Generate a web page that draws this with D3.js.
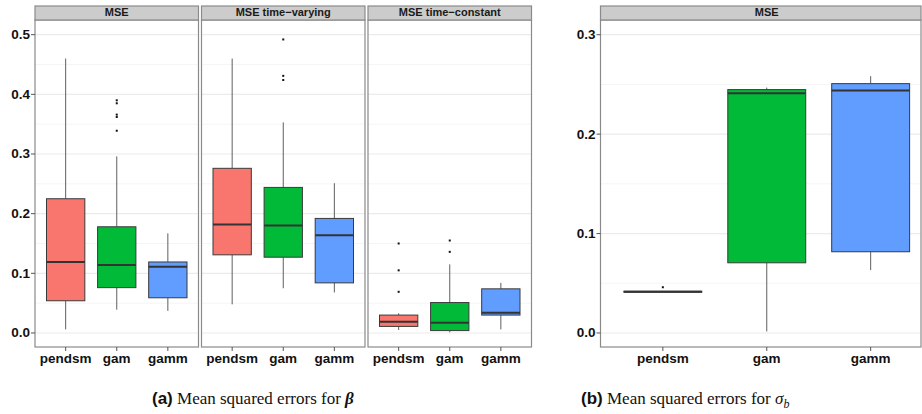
<!DOCTYPE html>
<html>
<head>
<meta charset="utf-8">
<script src="https://cdn.jsdelivr.net/npm/d3@7"></script>
<style>
  html, body { margin: 0; padding: 0; background: #fff; }
  svg { display: block; }
</style>
</head>
<body>
<svg id="chart" width="922" height="414"></svg>
<script>
// Estimators compared in each panel
const methods = ["pendsm", "gam", "gamm"];
const methodColors = ["#F8766D", "#00BA38", "#619CFF"];

// Five-number summaries per method: [lower whisker, Q1, median, Q3, upper whisker]
const betaTitles = ["MSE", "MSE time\u2212varying", "MSE time\u2212constant"];
const betaMse = [
  [0.006, 0.054, 0.119, 0.225, 0.460],
  [0.039, 0.076, 0.114, 0.178, 0.296],
  [0.037, 0.059, 0.111, 0.119, 0.167]
];
const betaMseVarying = [
  [0.048, 0.131, 0.182, 0.276, 0.460],
  [0.075, 0.127, 0.180, 0.244, 0.353],
  [0.068, 0.084, 0.164, 0.192, 0.251]
];
const betaMseConstant = [
  [0.005, 0.011, 0.019, 0.030, 0.033],
  [0.001, 0.004, 0.017, 0.051, 0.115],
  [0.006, 0.030, 0.034, 0.074, 0.084]
];
// Outlying values per method
const betaMseOutliers = [[], [0.390, 0.385, 0.366, 0.362, 0.339], []];
const betaMseVaryingOutliers = [[], [0.492, 0.431, 0.424], []];
const betaMseConstantOutliers = [[0.150, 0.105, 0.069], [0.155, 0.136], []];

const sigmaTitle = "MSE";
const sigmaMse = [
  [0.0410, 0.0410, 0.0415, 0.0420, 0.0420],
  [0.0016, 0.0706, 0.2412, 0.2448, 0.2468],
  [0.0633, 0.0817, 0.2438, 0.2508, 0.2583]
];
const sigmaMseOutliers = [[0.046], [], []];

const betaTicks = [0.0, 0.1, 0.2, 0.3, 0.4, 0.5];
const betaMinor = [0.05, 0.15, 0.25, 0.35, 0.45];
const sigmaTicks = [0.0, 0.1, 0.2, 0.3];
const sigmaMinor = [0.05, 0.15, 0.25];

const svg = d3.select("#chart");

const stripTop = 6, stripBottom = 20, panelBottom = 347;
const borderColor = "#8a8a8a";
const tickFont = "'Liberation Sans', Arial, Helvetica, sans-serif";

// Shared y scales
const yBeta = d3.scaleLinear().domain([-0.0235, 0.5246]).range([panelBottom, stripBottom]);
const ySigma = d3.scaleLinear().domain([-0.0141, 0.3148]).range([panelBottom, stripBottom]);

function drawPanel(x0, x1, xRangeEnd, y, title, stats, outliers, ticks, minor) {
  const g = svg.append("g");
  // discrete x positions with an expansion of 0.6 on each side
  const x = d3.scaleLinear().domain([0.4, 3.6]).range([x0, xRangeEnd]);
  const unit = x(2) - x(1);
  const boxW = unit * 0.75;

  g.append("rect").attr("x", x0).attr("y", stripBottom)
    .attr("width", x1 - x0).attr("height", panelBottom - stripBottom).attr("fill", "#fff");

  // minor then major grid
  g.selectAll(".minor").data(minor).join("line")
    .attr("x1", x0).attr("x2", x1)
    .attr("y1", d => y(d)).attr("y2", d => y(d))
    .attr("stroke", "#f5f5f5").attr("stroke-width", 1);
  g.selectAll(".major").data(ticks).join("line")
    .attr("x1", x0).attr("x2", x1)
    .attr("y1", d => y(d)).attr("y2", d => y(d))
    .attr("stroke", "#ebebeb").attr("stroke-width", 1.2);

  methods.forEach((m, i) => {
    const cx = x(i + 1);
    const s = stats[i];
    // whiskers
    g.append("line").attr("x1", cx).attr("x2", cx)
      .attr("y1", y(s[0])).attr("y2", y(s[1]))
      .attr("stroke", "#5f5f5f").attr("stroke-width", 1);
    g.append("line").attr("x1", cx).attr("x2", cx)
      .attr("y1", y(s[3])).attr("y2", y(s[4]))
      .attr("stroke", "#5f5f5f").attr("stroke-width", 1);
    // box
    g.append("rect").attr("x", cx - boxW / 2).attr("y", y(s[3]))
      .attr("width", boxW).attr("height", Math.max(0.5, y(s[1]) - y(s[3])))
      .attr("fill", methodColors[i]).attr("stroke", "#3a3a3a").attr("stroke-width", 1);
    // median
    g.append("line").attr("x1", cx - boxW / 2).attr("x2", cx + boxW / 2)
      .attr("y1", y(s[2])).attr("y2", y(s[2]))
      .attr("stroke", "#333").attr("stroke-width", 2);
    // outliers
    g.selectAll(null).data(outliers[i]).join("rect")
      .attr("x", cx - 1).attr("y", d => y(d) - 1)
      .attr("width", 2).attr("height", 2).attr("fill", "#111");
  });

  // border and strip
  g.append("rect").attr("x", x0).attr("y", stripBottom)
    .attr("width", x1 - x0).attr("height", panelBottom - stripBottom)
    .attr("fill", "none").attr("stroke", borderColor).attr("stroke-width", 1.2);
  g.append("rect").attr("x", x0).attr("y", stripTop)
    .attr("width", x1 - x0).attr("height", stripBottom - stripTop)
    .attr("fill", "#cccccc").attr("stroke", borderColor).attr("stroke-width", 1.2);
  g.append("text").attr("x", (x0 + xRangeEnd) / 2).attr("y", (stripTop + stripBottom) / 2 + 0.5)
    .attr("text-anchor", "middle").attr("dominant-baseline", "middle")
    .attr("font-family", tickFont).attr("font-weight", "bold").attr("font-size", 11)
    .attr("fill", "#1a1a1a").text(title);

  // x axis ticks and labels
  methods.forEach((m, i) => {
    const cx = x(i + 1);
    g.append("line").attr("x1", cx).attr("x2", cx)
      .attr("y1", panelBottom).attr("y2", panelBottom + 4)
      .attr("stroke", "#555").attr("stroke-width", 1);
    g.append("text").attr("x", cx).attr("y", panelBottom + 16)
      .attr("text-anchor", "middle")
      .attr("font-family", tickFont).attr("font-weight", "bold").attr("font-size", 13.5)
      .attr("fill", "#111").text(m);
  });
}

function drawYAxis(xEdge, y, ticks) {
  const g = svg.append("g");
  ticks.forEach(t => {
    g.append("line").attr("x1", xEdge - 4).attr("x2", xEdge)
      .attr("y1", y(t)).attr("y2", y(t)).attr("stroke", "#555").attr("stroke-width", 1);
    g.append("text").attr("x", xEdge - 5).attr("y", y(t))
      .attr("text-anchor", "end").attr("dominant-baseline", "central")
      .attr("font-family", tickFont).attr("font-weight", "bold").attr("font-size", 13.5)
      .attr("fill", "#111").text(d3.format(".1f")(t));
  });
}

// Left figure: three faceted panels for beta
const panelW = 163.5, gap = 3;
const betaStats = [betaMse, betaMseVarying, betaMseConstant];
const betaOut = [betaMseOutliers, betaMseVaryingOutliers, betaMseConstantOutliers];
betaStats.forEach((st, k) => {
  const x0 = 35 + k * (panelW + gap);
  drawPanel(x0, x0 + panelW, x0 + panelW, yBeta, betaTitles[k], st, betaOut[k], betaTicks, betaMinor);
});
drawYAxis(35, yBeta, betaTicks);

// Right figure: sigma_b panel (extends past the right edge)
drawPanel(600.5, 921, 933, ySigma, sigmaTitle, sigmaMse, sigmaMseOutliers, sigmaTicks, sigmaMinor);
drawYAxis(600.5, ySigma, sigmaTicks);

// Captions
const capSans = "'Liberation Sans', Arial, sans-serif";
const capSerif = "'Liberation Serif', 'Times New Roman', serif";
const capA = svg.append("text").attr("x", 152).attr("y", 404).attr("font-size", 17).attr("fill", "#111");
capA.append("tspan").attr("font-family", capSans).attr("font-weight", "bold").text("(a)");
capA.append("tspan").attr("font-family", capSerif).text(" Mean squared errors for ");
capA.append("tspan").attr("font-family", capSerif).attr("font-weight", "bold").attr("font-style", "italic").text("\u03B2");

const capB = svg.append("text").attr("x", 581).attr("y", 404).attr("font-size", 17).attr("fill", "#111");
capB.append("tspan").attr("font-family", capSans).attr("font-weight", "bold").text("(b)");
capB.append("tspan").attr("font-family", capSerif).text(" Mean squared errors for ");
capB.append("tspan").attr("font-family", capSerif).attr("font-style", "italic").text("\u03C3");
capB.append("tspan").attr("font-family", capSerif).attr("font-style", "italic")
  .attr("font-size", 12).attr("dy", 4).text("b");
</script>
</body>
</html>
